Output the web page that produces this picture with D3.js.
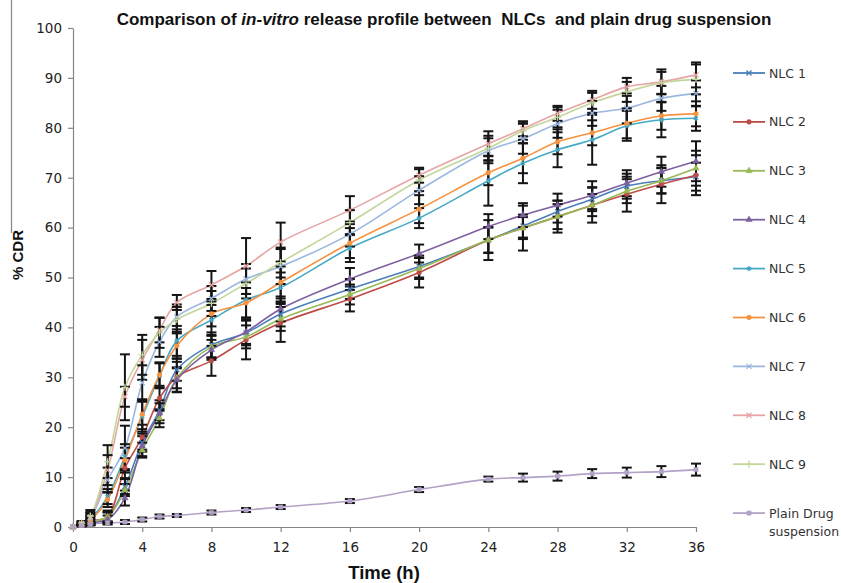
<!DOCTYPE html>
<html>
<head>
<meta charset="utf-8">
<script src="https://cdn.jsdelivr.net/npm/d3@7"></script>
<style>
  body { margin: 0; background: #fff; }
  svg { display: block; }
</style>
</head>
<body>
<svg id="chart" width="841" height="583"></svg>
<script>
// ---------------- DATA ----------------
const times = [0, 0.5, 1, 2, 3, 4, 5, 6, 8, 10, 12, 16, 20, 24, 26, 28, 30, 32, 34, 36];
const seriesNames = ["NLC 1", "NLC 2", "NLC 3", "NLC 4", "NLC 5", "NLC 6", "NLC 7", "NLC 8", "NLC 9", "Plain Drug suspension"];

const nlc1 = [0, 0.4, 1.0, 2.0, 8.1, 16.9, 23.4, 31.5, 36.5, 38.9, 42.7, 47.7, 52.2, 57.5, 60.3, 63.2, 65.7, 68.3, 69.4, 70.2];
const nlc2 = [0, 0.5, 1.2, 2.1, 11.8, 18.0, 25.8, 30.1, 33.3, 37.5, 40.9, 45.7, 51.0, 57.5, 59.9, 62.2, 64.5, 66.7, 68.7, 70.5];
const nlc3 = [0, 0.4, 1.1, 2.0, 7.4, 15.4, 21.8, 29.8, 36.1, 38.1, 41.7, 46.6, 51.8, 57.5, 59.9, 62.2, 64.5, 67.3, 69.4, 71.9];
const nlc4 = [0, 0.3, 0.8, 1.5, 5.8, 16.2, 22.8, 29.5, 35.5, 39.1, 43.7, 49.7, 54.8, 60.2, 62.5, 64.5, 66.5, 68.9, 71.2, 73.3];
const nlc5 = [0, 0.6, 1.6, 6.1, 14.1, 22.1, 30.3, 37.3, 41.5, 45.5, 48.0, 55.9, 61.9, 69.4, 72.9, 75.6, 77.6, 80.4, 81.6, 81.9];
const nlc6 = [0, 0.5, 1.4, 5.5, 13.4, 22.6, 30.5, 36.3, 42.7, 44.9, 49.0, 56.9, 63.7, 71.0, 73.9, 77.2, 79.0, 80.9, 82.4, 82.8];
const nlc7 = [0, 0.7, 1.8, 9.4, 15.8, 28.9, 37.1, 42.1, 45.8, 49.7, 52.2, 58.7, 67.5, 75.4, 77.8, 80.8, 82.9, 83.9, 85.9, 86.9];
const nlc8 = [0, 0.7, 2.0, 11.4, 26.1, 33.5, 39.5, 45.0, 48.5, 52.3, 57.1, 63.5, 70.5, 76.8, 79.8, 82.9, 85.6, 88.2, 89.2, 90.6];
const nlc9 = [0, 0.8, 2.2, 13.1, 28.0, 34.5, 38.9, 41.6, 44.8, 48.8, 53.0, 61.0, 69.5, 75.9, 79.4, 82.1, 85.0, 87.2, 89.0, 89.7];
const plain = [0, 0.3, 0.6, 0.8, 1.0, 1.5, 2.1, 2.3, 2.9, 3.4, 4.0, 5.2, 7.5, 9.6, 9.9, 10.2, 10.7, 10.9, 11.1, 11.5];

// standard deviations (error bars)
const err1 = [0, 0.2, 0.6, 1.0, 1.5, 1.8, 2.0, 2.2, 2.5, 2.5, 2.5, 2.0, 2.2, 2.6, 2.3, 2.2, 2.4, 2.5, 2.6, 2.8];
const err2 = [0, 0.2, 0.8, 1.2, 2.0, 2.5, 2.5, 3.0, 3.0, 3.9, 3.8, 2.5, 3.0, 4.0, 4.5, 3.2, 3.5, 3.5, 3.8, 4.0];
const err3 = [0, 0.2, 0.6, 0.9, 1.2, 1.5, 1.8, 2.0, 2.2, 2.3, 2.4, 2.0, 2.1, 2.5, 2.2, 2.5, 2.2, 2.4, 2.5, 3.5];
const err4 = [0, 0.2, 0.5, 0.8, 1.5, 2.0, 2.0, 2.5, 2.0, 2.4, 2.5, 2.2, 1.8, 2.5, 2.4, 2.3, 2.8, 2.6, 3.0, 4.0];
const err5 = [0, 0.3, 0.8, 1.5, 2.5, 3.0, 2.5, 3.0, 3.0, 3.5, 3.0, 2.8, 2.0, 5.0, 4.0, 3.5, 5.0, 3.0, 3.5, 2.5];
const err6 = [0, 0.3, 0.8, 1.5, 2.5, 3.0, 2.5, 2.5, 2.5, 3.0, 3.2, 3.0, 2.8, 2.5, 3.0, 2.5, 2.5, 3.0, 2.8, 2.5];
const err7 = [0, 0.3, 1.0, 2.5, 4.5, 3.5, 3.0, 2.5, 2.5, 3.0, 3.5, 2.5, 2.8, 2.5, 3.0, 2.8, 2.5, 3.0, 2.5, 2.6];
const err8 = [0, 0.4, 1.0, 3.0, 2.0, 4.0, 2.5, 1.5, 2.8, 5.6, 3.9, 2.8, 1.5, 2.5, 1.5, 1.5, 1.8, 1.8, 2.5, 2.5];
const err9 = [0, 0.4, 1.2, 3.3, 6.6, 4.0, 3.0, 2.5, 2.5, 3.0, 3.0, 2.5, 2.2, 2.5, 1.8, 2.0, 2.0, 2.0, 2.2, 3.0];
const errP = [0, 0.1, 0.2, 0.3, 0.4, 0.4, 0.4, 0.3, 0.4, 0.4, 0.4, 0.4, 0.5, 0.5, 0.8, 0.9, 0.9, 1.0, 1.1, 1.2];

const xTicks = [0, 4, 8, 12, 16, 20, 24, 28, 32, 36];
const yTicks = [0, 10, 20, 30, 40, 50, 60, 70, 80, 90, 100];

// ---------------- STYLE ----------------
const colors = ["#4A7EBB", "#BE4B48", "#98B954", "#7D60A0", "#46AAC5", "#F69240", "#9BB7E0", "#E6A5A4", "#C3D69B", "#B3A2C7"];
const symbols = [d3.symbolX, d3.symbolCircle, d3.symbolTriangle, d3.symbolTriangle, d3.symbolAsterisk,
                 d3.symbolCircle, d3.symbolX, d3.symbolX, d3.symbolPlus, d3.symbolSquare];
const valueSets = [nlc1, nlc2, nlc3, nlc4, nlc5, nlc6, nlc7, nlc8, nlc9, plain];
const errSets = [err1, err2, err3, err4, err5, err6, err7, err8, err9, errP];

const series = seriesNames.map((name, i) => ({
  name, color: colors[i], symbol: symbols[i],
  points: times.map((t, j) => ({ t, v: valueSets[i][j], e: errSets[i][j] }))
}));

// ---------------- CHART ----------------
const svg = d3.select("#chart");
const x = d3.scaleLinear().domain([0, 36]).range([73, 696]);
const y = d3.scaleLinear().domain([0, 100]).range([527, 28]);

const tickFont = "'DejaVu Sans', Verdana, sans-serif";
const titleFont = "'Liberation Sans', Arial, sans-serif";

// stray border line at left (as in reference)
svg.append("line").attr("x1", 11.5).attr("x2", 11.5).attr("y1", 0).attr("y2", 233)
  .attr("stroke", "#8a8a8a").attr("stroke-width", 1.3);

// axes
const xAxis = svg.append("g").attr("transform", `translate(0,${y(0)})`)
  .call(d3.axisBottom(x).tickValues(xTicks).tickSize(5).tickSizeOuter(0).tickPadding(10));
const yAxis = svg.append("g").attr("transform", `translate(${x(0)},0)`)
  .call(d3.axisLeft(y).tickValues(yTicks).tickSize(5).tickSizeOuter(0).tickPadding(6));
[xAxis, yAxis].forEach(g => {
  g.select(".domain").attr("stroke", "#868686").attr("stroke-width", 1.2);
  g.selectAll(".tick line").attr("stroke", "#868686").attr("stroke-width", 1.2);
  g.selectAll(".tick text").attr("fill", "#222").style("font-family", tickFont).style("font-size", "13.5px");
});

// lines
const line = d3.line().x(d => x(d.t)).y(d => y(d.v)).curve(d3.curveCatmullRom.alpha(0.5));
const gLines = svg.append("g");
series.forEach(s => {
  gLines.append("path").attr("d", line(s.points)).attr("fill", "none")
    .attr("stroke", s.color).attr("stroke-width", 1.6);
});

// error bars
const gErr = svg.append("g").attr("stroke", "#151515").attr("stroke-width", 2);
series.forEach(s => {
  s.points.filter(p => p.e > 0).forEach(p => {
    const cx = x(p.t), y1 = y(p.v + p.e), y2 = y(p.v - p.e);
    gErr.append("line").attr("x1", cx).attr("x2", cx).attr("y1", y1).attr("y2", y2);
    gErr.append("line").attr("x1", cx - 5).attr("x2", cx + 5).attr("y1", y1).attr("y2", y1);
    gErr.append("line").attr("x1", cx - 5).attr("x2", cx + 5).attr("y1", y2).attr("y2", y2);
  });
});

// markers
const gMk = svg.append("g");
series.forEach(s => {
  const sym = d3.symbol().type(s.symbol).size(18);
  const isStroke = s.symbol === d3.symbolX || s.symbol === d3.symbolPlus || s.symbol === d3.symbolAsterisk;
  s.points.forEach(p => {
    gMk.append("path").attr("d", sym()).attr("transform", `translate(${x(p.t)},${y(p.v)})`)
      .attr("fill", isStroke ? "none" : s.color)
      .attr("stroke", s.color).attr("stroke-width", isStroke ? 1.3 : 0.5);
  });
});

// title
const title = svg.append("text").attr("x", 444).attr("y", 25).attr("text-anchor", "middle")
  .style("font-family", titleFont).style("font-size", "17px")
  .style("font-weight", "bold").attr("fill", "#111");
title.append("tspan").text("Comparison of ");
title.append("tspan").style("font-style", "italic").text("in-vitro");
title.append("tspan").text(" release profile between \u00A0NLCs \u00A0and plain drug suspension");

// axis titles
svg.append("text").attr("x", 384).attr("y", 579).attr("text-anchor", "middle")
  .style("font-family", titleFont).style("font-size", "18.5px")
  .style("font-weight", "bold").attr("fill", "#111").text("Time (h)");
svg.append("text").attr("transform", "translate(23,255) rotate(-90)").attr("text-anchor", "middle")
  .style("font-family", titleFont).style("font-size", "15px")
  .style("font-weight", "bold").attr("fill", "#111").text("% CDR");

// legend
const legend = svg.append("g");
series.forEach((s, i) => {
  const ly = 73 + i * 48.9;
  const g = legend.append("g").attr("transform", `translate(0,${ly})`);
  g.append("line").attr("x1", 733).attr("x2", 765).attr("y1", 0).attr("y2", 0)
    .attr("stroke", s.color).attr("stroke-width", 1.8);
  const isStroke = s.symbol === d3.symbolX || s.symbol === d3.symbolPlus || s.symbol === d3.symbolAsterisk;
  g.append("path").attr("d", d3.symbol().type(s.symbol).size(18)()).attr("transform", "translate(749,0)")
    .attr("fill", isStroke ? "none" : s.color).attr("stroke", s.color).attr("stroke-width", isStroke ? 1.3 : 0.5);
  const words = i === 9 ? ["Plain Drug", "suspension"] : [s.name];
  words.forEach((w, k) => {
    g.append("text").attr("x", 769).attr("y", 4.5 + k * 18)
      .style("font-family", tickFont).style("font-size", "12.5px").attr("fill", "#333").text(w);
  });
});
</script>
</body>
</html>
